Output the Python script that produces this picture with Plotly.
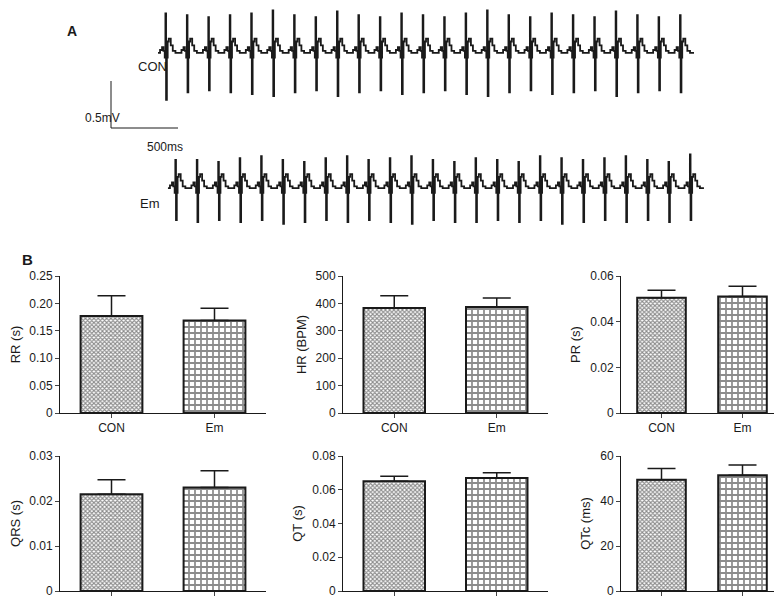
import plotly.graph_objects as go

W, H = 782, 600
# ---- data ----
groups = ["CON", "Em"]
rr = [0.177, 0.169]; rr_err = [0.037, 0.022]
hr = [383, 387]; hr_err = [45, 33]
pr = [0.0505, 0.051]; pr_err = [0.0033, 0.0045]
qrs = [0.0215, 0.023]; qrs_err = [0.0032, 0.0037]
qt = [0.065, 0.067]; qt_err = [0.003, 0.003]
qtc = [49.5, 51.5]; qtc_err = [5.0, 4.5]

# ECG beat template: time offsets (ms) and relative voltage (mV)
beat_t = [0, 15, 30, 40, 50, 55, 60, 66, 72, 80, 95, 110, 130, 160]
beat_v = [0, 0.03, 0.06, 0.02, -0.05, 1.0, -1.0, -0.05, 0.12, 0.15, 0.08, 0.02, 0, 0]
con_r = [0.42, 0.40, 0.38, 0.40, 0.42, 0.45, 0.40, 0.38, 0.44, 0.40, 0.38, 0.42, 0.40, 0.38, 0.42, 0.45, 0.40, 0.38, 0.42, 0.40, 0.38, 0.44, 0.40, 0.38, 0.40]
con_s = [0.50, 0.42, 0.40, 0.42, 0.44, 0.46, 0.42, 0.40, 0.46, 0.42, 0.40, 0.44, 0.42, 0.40, 0.44, 0.46, 0.42, 0.40, 0.44, 0.42, 0.40, 0.46, 0.42, 0.40, 0.42]
em_r = [0.30, 0.30, 0.28, 0.32, 0.34, 0.30, 0.28, 0.32, 0.34, 0.30, 0.32, 0.34, 0.30, 0.28, 0.32, 0.30, 0.28, 0.34, 0.32, 0.30, 0.32, 0.34, 0.30, 0.28, 0.36]
em_s = [0.34, 0.36, 0.34, 0.36, 0.34, 0.38, 0.36, 0.34, 0.36, 0.34, 0.36, 0.38, 0.34, 0.36, 0.36, 0.34, 0.36, 0.34, 0.38, 0.36, 0.34, 0.36, 0.34, 0.36, 0.34]
con_start, em_start, beat_ms = 351, 425, 160
con_base, em_base = 0.80, -0.64
scale_x = [0, 0, 500]; scale_y = [0.5, 0, 0]

def build(start, base, rs, ss):
    xs, ys = [], []
    for i, (r, s) in enumerate(zip(rs, ss)):
        for t, v in zip(beat_t, beat_v):
            xs.append(start + i * beat_ms + t)
            ys.append(base + (v * r if v == 1.0 else v * s if v == -1.0 else v))
    return xs, ys

fig = go.Figure()
BLACK = "#1a1a1a"
cx, cy = build(con_start, con_base, con_r, con_s)
ex, ey = build(em_start, em_base, em_r, em_s)
for xs, ys in [(cx, cy), (ex, ey)]:
    fig.add_trace(go.Scatter(x=xs, y=ys, mode="lines", line=dict(color=BLACK, width=1.8),
                             line_shape="hv",
                             xaxis="x7", yaxis="y7", showlegend=False, hoverinfo="skip"))
fig.add_trace(go.Scatter(x=scale_x, y=scale_y, mode="lines", line=dict(color=BLACK, width=1),
                         xaxis="x7", yaxis="y7", showlegend=False))

px_ms = 500 / 67
px_mv = 0.5 / 47
fig.update_layout(
    xaxis7=dict(domain=[0, 1], range=[-103 * px_ms, (782 - 103) * px_ms], visible=False, automargin=False),
    yaxis7=dict(domain=[1 - 240 / H, 1], range=[(120 - 240) * px_mv, 120 * px_mv], visible=False, automargin=False),
)

panels = [
    ("RR (s)", rr, rr_err, [0, 0.25], [0, 0.05, 0.10, 0.15, 0.20, 0.25], ["0", "0.05", "0.10", "0.15", "0.20", "0.25"]),
    ("HR (BPM)", hr, hr_err, [0, 500], [0, 100, 200, 300, 400, 500], None),
    ("PR (s)", pr, pr_err, [0, 0.06], [0, 0.02, 0.04, 0.06], ["0", "0.02", "0.04", "0.06"]),
    ("QRS (s)", qrs, qrs_err, [0, 0.03], [0, 0.01, 0.02, 0.03], ["0", "0.01", "0.02", "0.03"]),
    ("QT (s)", qt, qt_err, [0, 0.08], [0, 0.02, 0.04, 0.06, 0.08], ["0", "0.02", "0.04", "0.06", "0.08"]),
    ("QTc (ms)", qtc, qtc_err, [0, 60], [0, 20, 40, 60], None),
]
cols = [(52, 258), (335, 540), (613, 775)]
rows = [(268, 405), (448, 583)]
for i, (lab, vals, errs, rng, tv, tt) in enumerate(panels):
    n = i + 1
    c = cols[i % 3]; r = rows[i // 3]
    xa, ya = f"x{n}", f"y{n}"
    fig.add_trace(go.Bar(
        x=groups, y=vals, width=0.6, xaxis=xa, yaxis=ya, showlegend=False,
        marker=dict(color="white", line=dict(color=BLACK, width=2),
                    pattern=dict(shape=["x", "+"], size=[3, 6], solidity=[0.6, 0.5], fgcolor=BLACK, bgcolor="white")),
        error_y=dict(type="data", array=errs, arrayminus=[0, 0], symmetric=False,
                     color=BLACK, thickness=1.5, width=14)))
    fig.update_layout(**{
        f"xaxis{n}": dict(domain=[c[0] / W, c[1] / W], anchor=ya, range=[-0.5, 1.5], automargin=False,
                          showline=True, linecolor=BLACK, linewidth=1, ticks="outside", ticklen=4,
                          tickfont=dict(size=12, color=BLACK), showgrid=False),
        f"yaxis{n}": dict(domain=[1 - r[1] / H, 1 - r[0] / H], anchor=xa, range=rng, automargin=False,
                          tickvals=tv, ticktext=tt, showline=True, linecolor=BLACK, linewidth=1,
                          ticks="outside", ticklen=4, showgrid=False, zeroline=False,
                          tickfont=dict(size=12, color=BLACK),
                          title=dict(text=lab, font=dict(size=13, color=BLACK), standoff=6)),
    })

ann = [("<b>A</b>", 57, 13, 14), ("<b>B</b>", 12, 252, 15), ("CON", 128, 49, 13),
       ("Em", 130, 186, 13), ("0.5mV", 75, 101, 12), ("500ms", 137, 130, 12)]
fig.update_layout(annotations=[dict(text=t, x=x / W, y=1 - y / H, xref="paper", yref="paper",
                                    showarrow=False, font=dict(size=s, color=BLACK)) for t, x, y, s in ann])
fig.update_layout(width=W, height=H, margin=dict(l=0, r=0, t=0, b=0, autoexpand=False), plot_bgcolor="white",
                  paper_bgcolor="white", font=dict(family="Liberation Sans, Arial", color=BLACK), bargap=0.4)
fig.write_html("out.html")
